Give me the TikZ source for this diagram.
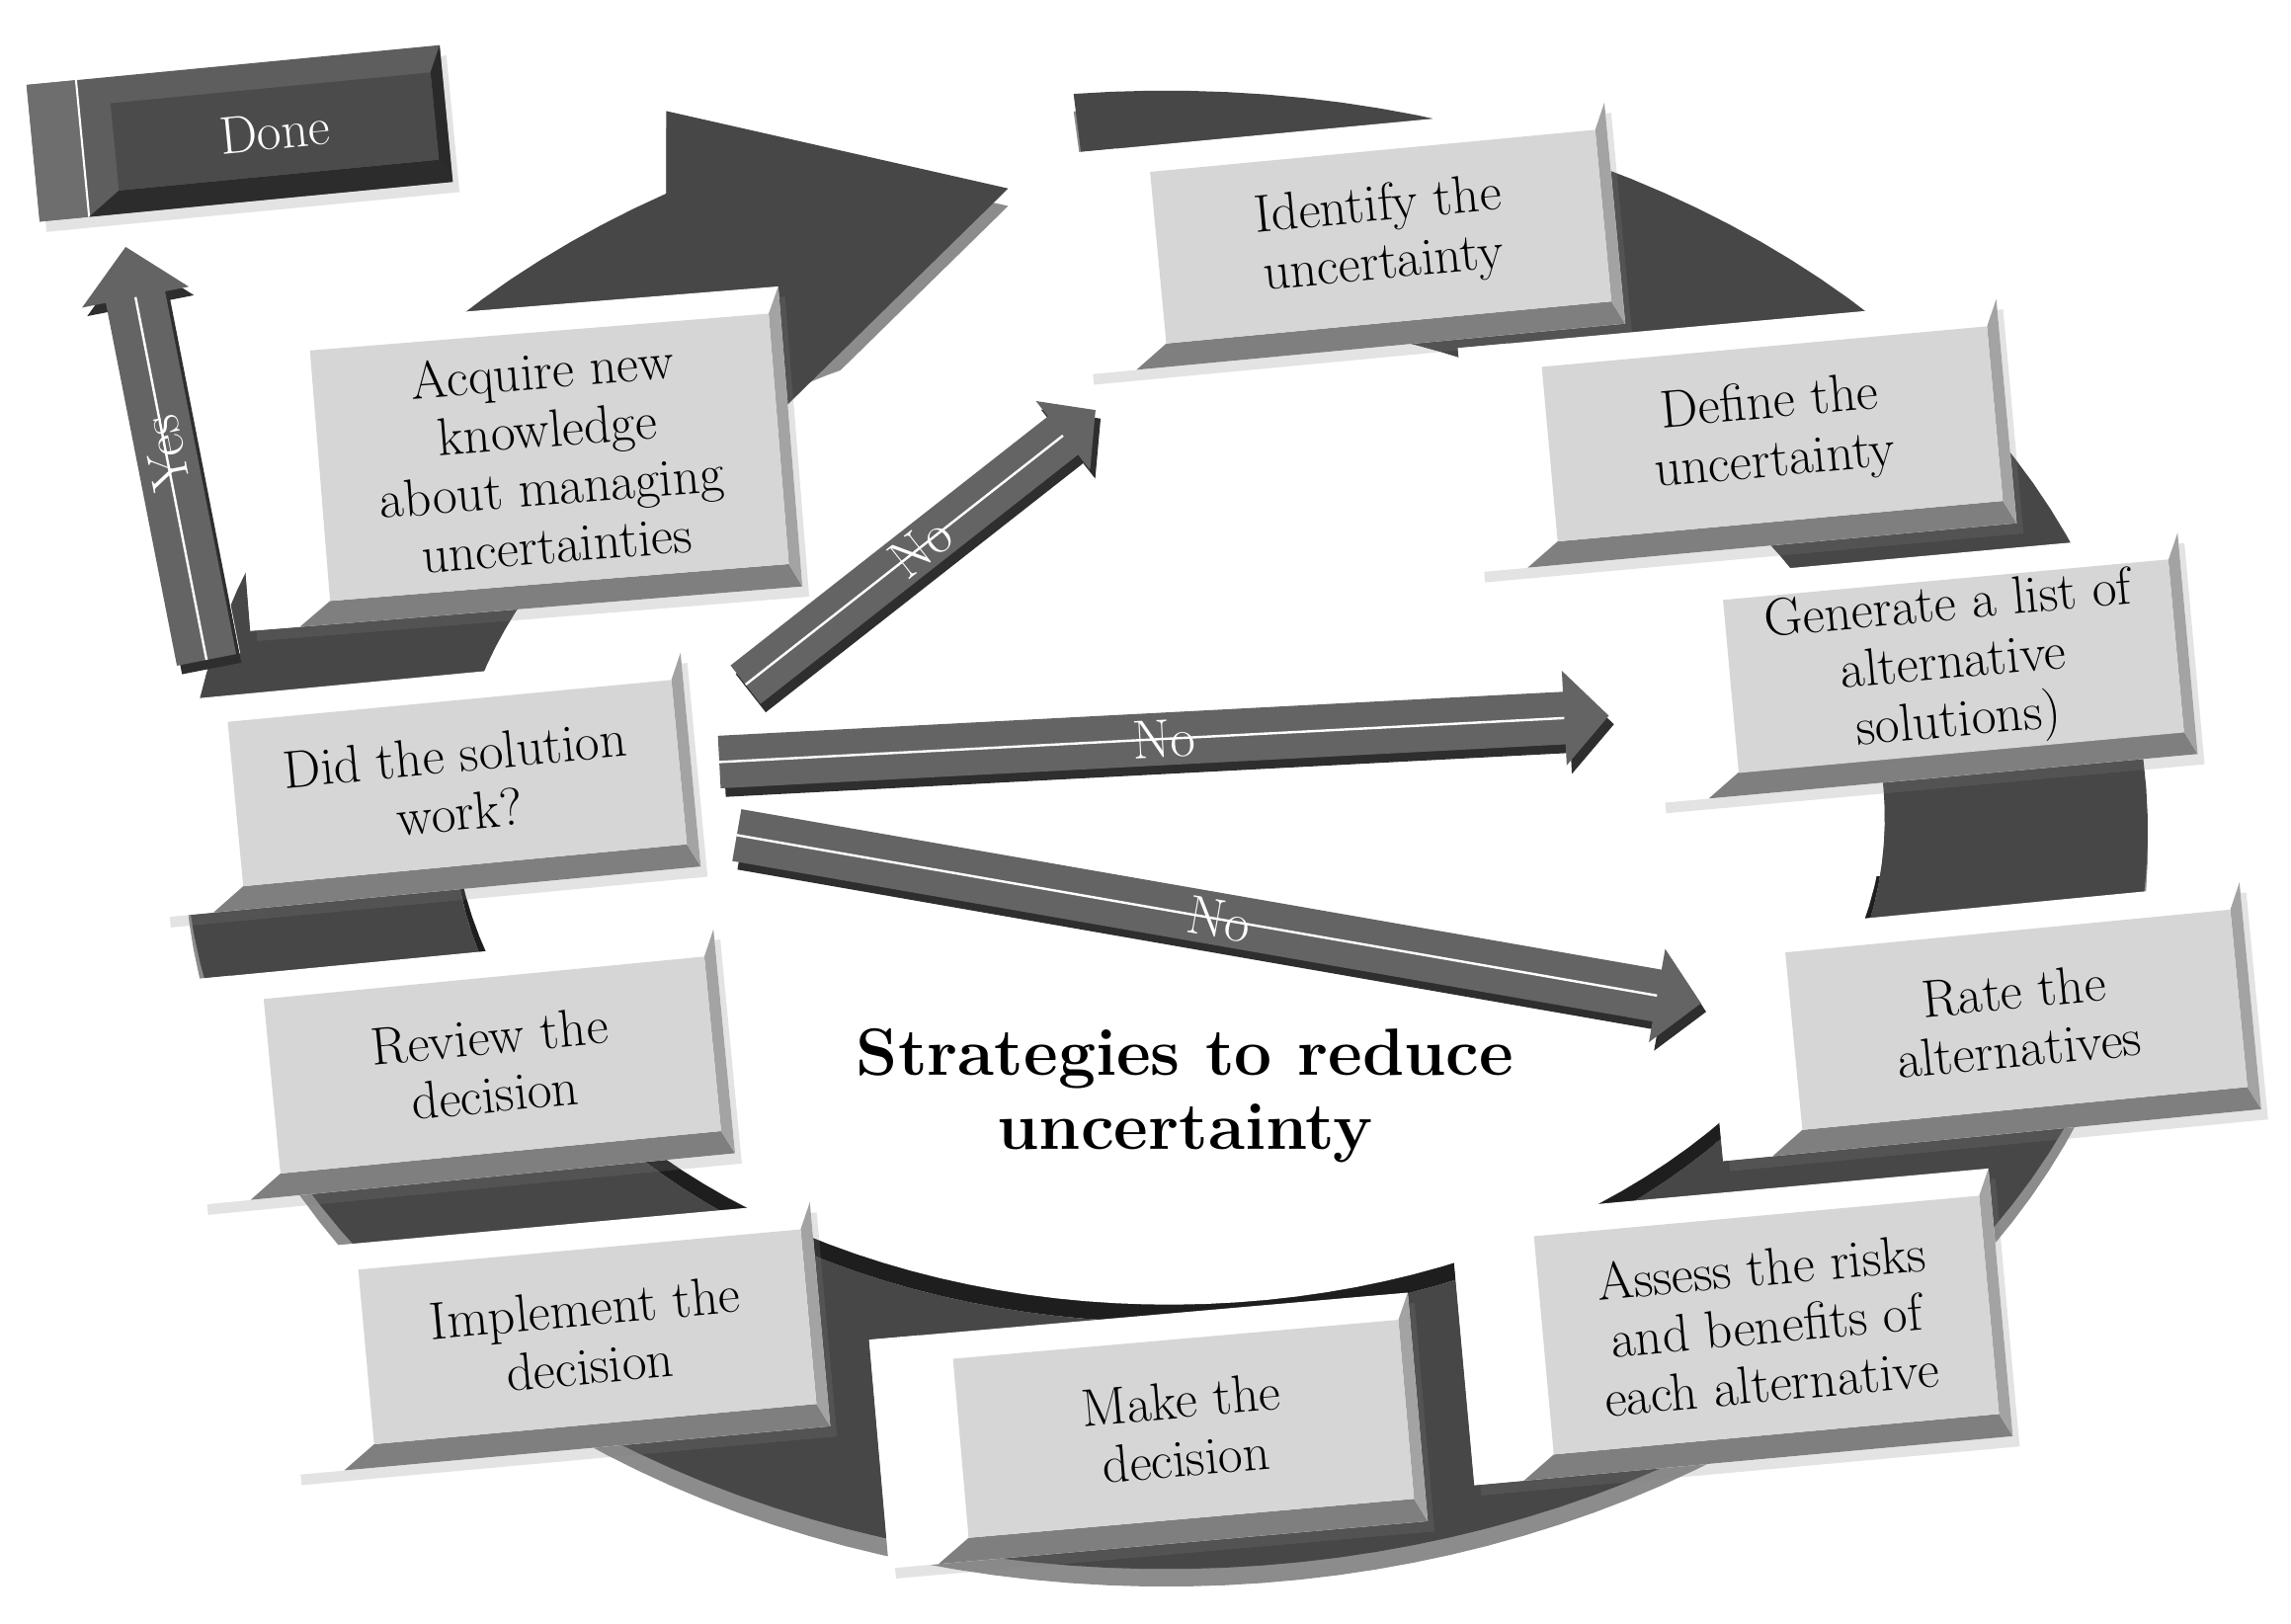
\documentclass[tikz,border=0pt]{standalone}
\usepackage{fontspec}
\usepackage{xcolor}
\usepackage{tikz}
\usetikzlibrary{arrows.meta,shadows}
\definecolor{ringdark}{HTML}{474747}
\definecolor{ringrim}{HTML}{8C8C8C}
\definecolor{ringwall}{HTML}{1E1E1E}
\definecolor{barcol}{HTML}{646464}
\definecolor{barshade}{HTML}{2E2E2E}
\definecolor{lightbody}{HTML}{FFFFFF}
\definecolor{lightside}{HTML}{FFFFFF}
\definecolor{lightface}{HTML}{D6D6D6}
\definecolor{lightbot}{HTML}{7F7F7F}
\definecolor{lightrim}{HTML}{A3A3A3}
\definecolor{darkbody}{HTML}{5E5E5E}
\definecolor{darkside}{HTML}{6E6E6E}
\definecolor{darkface}{HTML}{4B4B4B}
\definecolor{darkbot}{HTML}{2C2C2C}
\definecolor{darkrim}{HTML}{2A2A2A}
\newcommand{\pxu}{0.015cm}
\newcommand{\boxfont}{\fontsize{15.5}{17}\selectfont}
% 3D block: colour set, name, x, y, angle, face width, face height, text
\newcommand{\stepblock}[8]{%
  \begin{scope}[shift={(#3,#4)}, rotate=#5]
    \fill[#1body, drop shadow={opacity=0.22, shadow xshift=2pt, shadow yshift=-3pt}]
      (-#6/2-56,-#7/2-16) rectangle (#6/2+8,#7/2+18);
    \fill[#1side] (-#6/2-56,-#7/2-16) rectangle (-#6/2-22,#7/2+18);
    \draw[white, line width=0.6pt] (-#6/2-22,-#7/2-16) -- (-#6/2-22,#7/2+18);
    \fill[#1bot] (-#6/2,-#7/2) -- (-#6/2-22,-#7/2-16) -- (#6/2+8,-#7/2-16) -- (#6/2,-#7/2) -- cycle;
    \fill[#1rim] (#6/2,-#7/2) -- (#6/2+8,-#7/2-16) -- (#6/2+8,#7/2+18) -- (#6/2,#7/2) -- cycle;
  \end{scope}
  \node[#1block, rotate=#5, minimum width=#6*\pxu, minimum height=#7*\pxu] (#2) at (#3,#4) {#8};
}
% ring band, outer edge and head lowered by #1
\newcommand{\ringpath}[1]{plot[domain=95.4:-239.4, samples=150] ({798+672*cos(\x)},{-568-#1+506*sin(\x)})
  -- (456,-76-#1) -- (690,-129-#1) -- (440,-374-#1)
  -- plot[domain=-223.4:95.4, samples=150] ({800+490*cos(\x)},{-560+345*sin(\x)}) -- cycle}

\begin{document}
\begin{tikzpicture}[
  x=\pxu, y=\pxu,
  lightblock/.style={fill=lightface, text=black, font=\boxfont, align=center, inner sep=1pt},
  darkblock/.style={fill=darkface, text=white, font=\boxfont, align=center, inner sep=1pt},
  bar/.style={line width=#1, draw=barcol, line cap=butt,
    -{Triangle[length=0pt 0.85, width=0pt 1.75]},
    preaction={draw=white, line width=#1+2.4pt, -{Triangle[length=0pt 0.85, width=0pt 1.75]}},
    preaction={draw=barshade, line width=#1, -{Triangle[length=0pt 0.85, width=0pt 1.75]},
      transform canvas={shift={(1.5pt,-2.5pt)}}},
    postaction={draw=white, line width=0.7pt, -, shorten >=0.85*#1}},
  bar/.default=0.5cm,
  barlabel/.style={text=white, font=\fontsize{16}{16}\selectfont, inner sep=0pt},
  title/.style={font=\bfseries\fontsize{19.5}{21.5}\selectfont, align=center}
]
\fill[white] (0,0) rectangle (1568,-1111);
\useasboundingbox (0,0) rectangle (1568,-1111);

% the cycle ring with its arrow head
\fill[ringrim] \ringpath{12};
\begin{scope}
  \clip plot[domain=0:360, samples=150] ({800+490*cos(\x)},{-560+345*sin(\x)});
  \fill[ringwall] (200,-600) rectangle (1400,-1000);
  \fill[white] plot[domain=0:360, samples=150] ({800+490*cos(\x)},{-548+345*sin(\x)});
\end{scope}
\fill[ringdark] \ringpath{0};

% steps
\stepblock{dark}{done}{188}{-90}{5.5}{220}{60}{Done}
\stepblock{light}{acq}{376}{-313}{4.6}{315}{172}{Acquire new\\knowledge\\about managing\\uncertainties}
\stepblock{light}{ident}{945}{-162}{5.4}{306}{118}{Identify the\\uncertainty}
\stepblock{light}{defn}{1213}{-297}{5.2}{306}{120}{Define the\\uncertainty}
\stepblock{light}{gen}{1337}{-456}{5.2}{306}{118}{Generate a list of\\alternative\\solutions)}
\stepblock{light}{rate}{1380}{-698}{5.5}{306}{122}{Rate the\\alternatives}
\stepblock{light}{assess}{1209}{-907}{5.2}{306}{150}{Assess the risks\\and benefits of\\each alternative}
\stepblock{light}{make}{810}{-978}{5}{306}{123}{Make the\\decision}
\stepblock{light}{impl}{402}{-915}{5.2}{304}{120}{Implement the\\decision}
\stepblock{light}{review}{337}{-729}{5.5}{303}{120}{Review the\\decision}
\stepblock{light}{did}{313}{-536}{5.4}{305}{113}{Did the solution\\work?}

\node[title] (head) at (811,-750) {Strategies to reduce\\uncertainty};

% answers
\coordinate (yes-tail) at ([shift={(-14,42)}]did.north west);
\coordinate (yes-tip) at ([shift={(5,-38)}]done.south west);
\coordinate (noa-tail) at ([shift={(45,53)}]did.east);
\coordinate (noa-tip) at ([shift={(-48,-45)}]ident.south west);
\coordinate (nob-tail) at ([shift={(27,0)}]did.east);
\coordinate (nob-tip) at ([shift={(-83,-20)}]gen.west);
\coordinate (noc-tail) at ([shift={(39,-50)}]did.east);
\coordinate (noc-tip) at ([shift={(-63,26)}]rate.west);

\draw[bar=0.62cm] (yes-tail) -- node[barlabel, sloped, allow upside down] (lab-yes) {Yes} (yes-tip);
\draw[bar] (noa-tail) -- node[barlabel, sloped] (lab-noa) {No} (noa-tip);
\draw[bar=0.54cm] (nob-tail) -- node[barlabel, sloped] (lab-nob) {No} (nob-tip);
\draw[bar=0.54cm] (noc-tail) -- node[barlabel, sloped] (lab-noc) {No} (noc-tip);
\end{tikzpicture}
\end{document}
